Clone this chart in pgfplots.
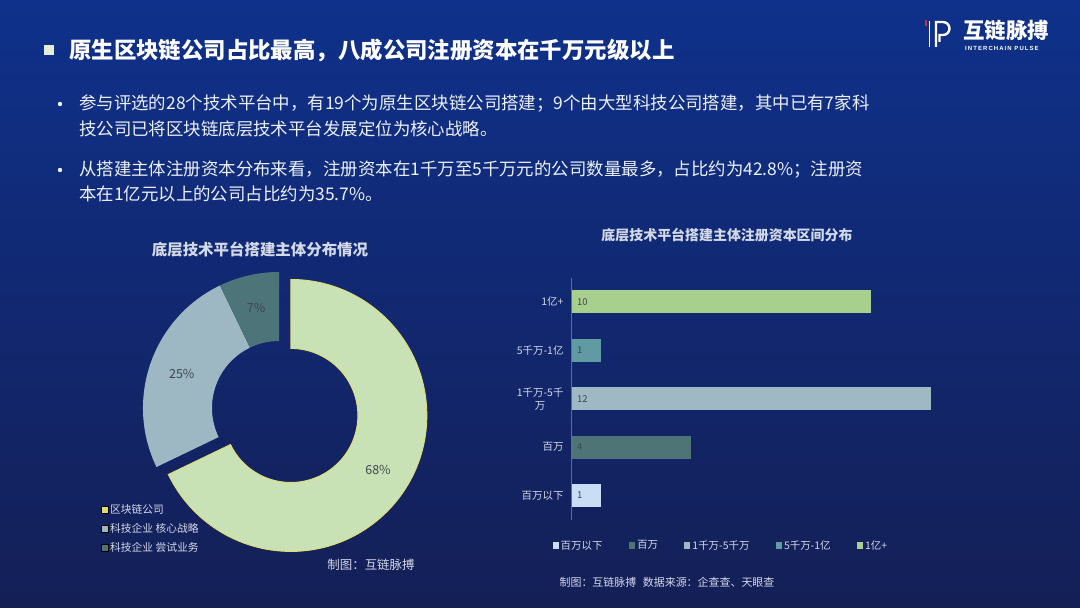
\documentclass[border=0pt]{standalone}
\usepackage{fontspec}
\setmainfont{Noto Sans CJK SC}
\newfontfamily\logofont{Liberation Sans}[LetterSpace=18]
\usepackage{pgfplots}
\pgfplotsset{compat=1.18}
\usepackage{pgfplotstable}

\definecolor{bgtop}{RGB}{15,49,139}
\definecolor{bgbot}{RGB}{20,31,86}
\definecolor{txt}{RGB}{236,240,247}
\definecolor{sub}{RGB}{210,217,232}
\definecolor{cyel}{RGB}{201,226,181}
\definecolor{cyelb}{RGB}{226,220,110}
\definecolor{clight}{RGB}{157,184,195}
\definecolor{cdark}{RGB}{77,117,121}
\definecolor{bgreen}{RGB}{168,208,141}
\definecolor{bteal}{RGB}{96,154,163}
\definecolor{bgray}{RGB}{158,184,196}
\definecolor{bdark}{RGB}{79,116,118}
\definecolor{bpale}{RGB}{201,221,245}
\definecolor{lbl}{RGB}{62,70,80}
\definecolor{hbul}{RGB}{226,236,216}
\definecolor{logored}{RGB}{220,40,50}
\definecolor{yline}{RGB}{88,108,168}

% donut data: 区块链公司, 科技企业 核心战略, 科技企业 尝试业务
\pgfplotstableread{
group value
chain 19
core 7
try 2
}\piedata

\begin{document}
\begin{tikzpicture}[x=1bp,y=1bp]
% background
\shade[top color=bgtop, bottom color=bgbot] (0bp,0bp) rectangle (1080bp,608bp);
\path[use as bounding box] (0bp,0bp) rectangle (1080bp,608bp);

% ---------------- bar chart (drawn first) ----------------
\node[text=sub, font=\fontsize{14}{16}\selectfont\bfseries] at (727bp,373bp) {底层技术平台搭建主体注册资本区间分布};

\begin{axis}[at={(571bp,88.3bp)}, anchor=south west, scale only axis,
  width=420bp, height=242bp,
  xbar, bar shift=0pt, bar width=23bp,
  xmin=0, xmax=14, ymin=-0.5, ymax=4.5,
  axis line style={draw=none},
  xtick=\empty,
  ytick={0,1,2,3,4},
  yticklabels={百万以下,百万,{1千万-5千\\万},5千万-1亿,1亿+},
  yticklabel style={text=sub, font=\fontsize{10.5}{13}\selectfont, align=center, xshift=-4bp},
  major tick length=0pt, tick style={draw=none},
  clip=false,
  legend columns=5,
  legend style={at={(axis description cs:-0.044,-0.107)}, anchor=west,
    draw=none, fill=none, text=sub, font=\fontsize{10.5}{12}\selectfont, inner sep=0pt,
    /tikz/every even column/.append style={column sep=24.5bp}},
  legend image code/.code={\fill[#1] (0bp,-3.2bp) rectangle (6bp,3.2bp);},
  ]
  \addplot[draw=none, fill=bpale] coordinates {(1,0)};
  \addlegendentry{百万以下}
  \addplot[draw=none, fill=bdark] coordinates {(4,1)};
  \addlegendentry{百万}
  \addplot[draw=none, fill=bgray] coordinates {(12,2)};
  \addlegendentry{1千万-5千万}
  \addplot[draw=none, fill=bteal] coordinates {(1,3)};
  \addlegendentry{5千万-1亿}
  \addplot[draw=none, fill=bgreen] coordinates {(10,4)};
  \addlegendentry{1亿+}
  \addplot[forget plot, draw=none, fill=none, nodes near coords, point meta=explicit symbolic,
    every node near coord/.append style={anchor=west, xshift=2.5bp, text=lbl, font=\fontsize{9.5}{11}\selectfont}]
    coordinates {(0,0) [1] (0,1) [4] (0,2) [12] (0,3) [1] (0,4) [10]};
  \draw[yline, line width=0.6bp] (axis cs:0,-0.5) -- (axis cs:0,4.5);
\end{axis}

\node[text=sub, font=\fontsize{11}{13}\selectfont] at (667bp,25.3bp) {制图：互链脉搏\hspace{0.6em}数据来源：企查查、天眼查};

% header
\fill[hbul] (44bp,553bp) rectangle (54bp,563bp);
\node[anchor=west, inner sep=0, text=white, font=\fontsize{22.5}{26}\selectfont\bfseries] at (69bp,558bp)
  {原生区块链公司占比最高，八成公司注册资本在千万元级以上};

\begin{scope}[every node/.style={anchor=west, inner sep=0, text=txt, font=\fontsize{17.5}{20}\selectfont}]
\node at (79bp,504bp) {参与评选的28个技术平台中，有19个为原生区块链公司搭建；9个由大型科技公司搭建，其中已有7家科};
\node at (79bp,479bp) {技公司已将区块链底层技术平台发展定位为核心战略。};
\node at (79bp,438bp) {从搭建主体注册资本分布来看，注册资本在1千万至5千万元的公司数量最多，占比约为42.8\%；注册资};
\node at (79bp,414bp) {本在1亿元以上的公司占比约为35.7\%。};
\end{scope}
\fill[txt] (60bp,504bp) circle (2.2bp);
\fill[txt] (60bp,438bp) circle (2.2bp);

% logo
\draw[logored, line width=2.4bp] (926bp,588bp) -- (926bp,582bp);
\draw[white, line width=1.8bp] (929.5bp,587bp) -- (929.5bp,561bp);
\draw[white, line width=2.4bp] (936bp,561bp) -- (936bp,586bp) -- (943bp,586bp) arc[start angle=90,end angle=-90,radius=6.5bp] -- (939.5bp,573bp) -- (939.5bp,566bp);
\node[anchor=west, inner sep=0, text=white, font=\fontsize{21.5}{24}\selectfont\bfseries] at (963bp,578bp) {互链脉搏};
\node[anchor=west, inner sep=0, text=white, font=\logofont\fontsize{6}{7}\selectfont\bfseries] at (965bp,560bp) {INTERCHAIN PULSE};

% ---------------- donut ----------------
\pgfplotstablegetelem{0}{value}\of\piedata \let\dnVa\pgfplotsretval
\pgfplotstablegetelem{1}{value}\of\piedata \let\dnVb\pgfplotsretval
\pgfplotstablegetelem{2}{value}\of\piedata \let\dnVc\pgfplotsretval
\pgfmathsetmacro\dnTot{\dnVa+\dnVb+\dnVc}
\pgfmathsetmacro\dnAa{90}
\pgfmathsetmacro\dnAb{\dnAa-360*\dnVa/\dnTot}
\pgfmathsetmacro\dnAc{\dnAb-360*\dnVb/\dnTot}
\pgfmathsetmacro\dnAd{\dnAc-360*\dnVc/\dnTot}
\pgfmathsetmacro\dnMa{(\dnAa+\dnAb)/2}
\pgfmathsetmacro\dnMb{(\dnAb+\dnAc)/2}
\pgfmathsetmacro\dnMc{(\dnAc+\dnAd)/2}
\pgfmathsetmacro\dnEx{14*cos(\dnMa)}
\pgfmathsetmacro\dnEy{14*sin(\dnMa)}
\pgfmathtruncatemacro\dnPa{round(100*\dnVa/\dnTot)}
\pgfmathtruncatemacro\dnPb{round(100*\dnVb/\dnTot)}
\pgfmathtruncatemacro\dnPc{round(100*\dnVc/\dnTot)}
\def\dnRo{136}
\def\dnRi{67}
\def\dnRl{103}

\node[text=sub, font=\fontsize{15.5}{17}\selectfont\bfseries] at (260bp,358bp) {底层技术平台搭建主体分布情况};

\begin{axis}[at={(129bp,50bp)}, anchor=south west, scale only axis,
  width=300bp, height=300bp, xmin=-150, xmax=150, ymin=-150, ymax=150,
  hide axis, clip=false,
  legend style={at={(axis description cs:-0.093,0.185)}, anchor=north west,
    draw=none, fill=none, text=sub, font=\fontsize{10.8}{12}\selectfont,
    row sep=4.5bp, inner sep=0pt, cells={anchor=west}},
  legend image code/.code={\fill[#1] (0bp,-3bp) rectangle (6.5bp,3.5bp);}]
  \addlegendimage{fill=cyelb}
  \addlegendentry{区块链公司}
  \addlegendimage{fill=clight}
  \addlegendentry{科技企业 核心战略}
  \addlegendimage{fill=cdark}
  \addlegendentry{科技企业 尝试业务}
  % slice 2 (light)
  \fill[clight] ({\dnRo*cos(\dnAb)},{\dnRo*sin(\dnAb)}) arc[start angle=\dnAb, end angle=\dnAc, radius=\dnRo bp]
     -- ({\dnRi*cos(\dnAc)},{\dnRi*sin(\dnAc)}) arc[start angle=\dnAc, end angle=\dnAb, radius=\dnRi bp] -- cycle;
  % slice 3 (dark)
  \fill[cdark] ({\dnRo*cos(\dnAc)},{\dnRo*sin(\dnAc)}) arc[start angle=\dnAc, end angle=\dnAd, radius=\dnRo bp]
     -- ({\dnRi*cos(\dnAd)},{\dnRi*sin(\dnAd)}) arc[start angle=\dnAd, end angle=\dnAc, radius=\dnRi bp] -- cycle;
  % slice 1 (exploded)
  \filldraw[fill=cyel, draw=cyelb, line width=0.9bp]
     ({\dnEx+\dnRo*cos(\dnAa)},{\dnEy+\dnRo*sin(\dnAa)}) arc[start angle=\dnAa, end angle=\dnAb, radius=\dnRo bp]
     -- ({\dnEx+\dnRi*cos(\dnAb)},{\dnEy+\dnRi*sin(\dnAb)}) arc[start angle=\dnAb, end angle=\dnAa, radius=\dnRi bp] -- cycle;
  \node[text=lbl, font=\fontsize{12.5}{14}\selectfont] at ({\dnEx+\dnRl*cos(\dnMa)},{\dnEy+\dnRl*sin(\dnMa)}) {\dnPa\%};
  \node[text=lbl, font=\fontsize{12.5}{14}\selectfont] at ({\dnRl*cos(\dnMb)},{\dnRl*sin(\dnMb)}) {\dnPb\%};
  \node[text=lbl, font=\fontsize{12.5}{14}\selectfont] at ({\dnRl*cos(\dnMc)},{\dnRl*sin(\dnMc)}) {\dnPc\%};
\end{axis}

\node[text=sub, font=\fontsize{12.5}{14}\selectfont] at (371bp,43bp) {制图：互链脉搏};
\end{tikzpicture}
\end{document}
